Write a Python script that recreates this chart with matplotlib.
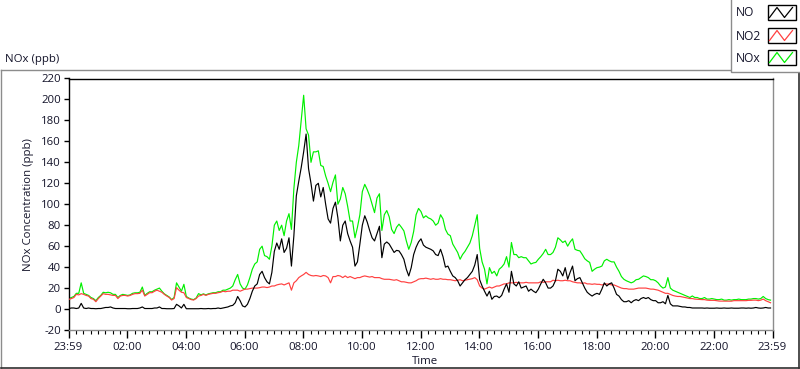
import numpy as np
import matplotlib
matplotlib.use("Agg")
import matplotlib.pyplot as plt
from matplotlib.patches import Rectangle
from matplotlib.lines import Line2D

plt.rcParams['font.family'] = ['Open Sans', 'DejaVu Sans']

# ---- data (5-minute samples, minutes after midnight) ----
minutes = np.arange(0, 1440, 5)

no = [
    # 00h
    0.5, 1, 1, 0.5, 1, 5.4, 1, 0.5, 1, 0.5, 0.5, 0.3,
    # 01h
    0.5, 0.5, 1, 1.5, 1.5, 2, 1, 0.5, 0.5, 0.5, 0.5, 0.5,
    # 02h
    0.3, 0.3, 0.5, 0.5, 0.5, 1, 2, 0.5, 0.5, 0.5, 0.5, 1,
    # 03h
    1, 2, 0.5, 0.5, 0.3, 0.3, 0.3, 0.5, 4.5, 3, 1, 4.5,
    # 04h
    0.3, 0.3, 0.2, 0.3, 0.3, 0.3, 0.5, 0.3, 0.3, 0.5, 0.3, 0.5,
    # 05h
    0.5, 1, 0.5, 1, 1.5, 2, 3, 3.5, 6, 12, 8, 3,
    # 06h
    2, 4.5, 10, 17, 22, 24, 33, 36, 30, 26, 24, 35,
    # 07h
    55, 63, 57, 67, 54, 58, 68, 41, 70, 108, 122, 135,
    # 08h
    150, 167, 134, 120, 103, 118, 120, 107, 116, 100, 86, 82,
    # 09h
    96, 102, 87, 65, 80, 84, 72, 65, 59, 41, 45, 62,
    # 10h
    80, 89, 83, 75, 68, 65, 72, 79, 49, 62, 64, 62,
    # 11h
    58, 54, 56, 55.5, 52, 47.5, 38, 31.6, 39.5, 52, 59, 64,
    # 12h
    67, 61, 59, 58, 57, 55.5, 52, 51, 57, 50, 40, 41,
    # 13h
    36, 31.6, 30, 27, 22, 25, 28, 30, 33, 36, 42, 52,
    # 14h
    28, 22, 17, 12.4, 17, 9.3, 12, 12.4, 10.8, 13, 19, 24,
    # 15h
    16, 36, 24, 22, 26, 20, 21, 22, 17, 19, 17, 15.6,
    # 16h
    19, 24, 28.4, 25, 20, 20, 22, 27, 38, 36, 31.6, 39.5,
    # 17h
    28.4, 35, 41, 27, 29, 30, 25, 20, 16, 14, 12.4, 14,
    # 18h
    15, 14, 19, 25, 22, 24, 25, 20, 14, 12.4, 9, 7,
    # 19h
    7, 8, 6, 8, 9, 8, 10, 11, 10, 11, 9, 8,
    # 20h
    8, 6, 6, 7, 5, 13, 5, 3, 3, 3, 2.5, 2,
    # 21h
    2, 1.5, 1.5, 1, 1, 1, 1, 1, 0.8, 1, 0.8, 0.8,
    # 22h
    0.8, 1, 0.8, 0.8, 1, 0.8, 0.8, 1, 0.8, 0.8, 0.8, 1,
    # 23h
    1, 0.8, 1, 0.8, 1, 1.5, 1, 0.8, 1, 1.5, 1, 1,
]

no2 = [
    9.3, 10, 11, 14, 13.5, 14.7, 14, 13, 12.4, 10, 9.3, 7,
    10, 12.4, 14.7, 14, 14, 13.5, 13, 13, 10, 12.4, 13, 13,
    12.4, 13, 14, 14.7, 14.7, 15, 18, 12.4, 14, 15.6, 15.6, 17,
    18, 17, 16, 14, 12.4, 11, 8.6, 10, 20.4, 18, 16, 15.6,
    11, 10, 9, 8.6, 10, 12.4, 13, 14, 13, 14, 14.5, 15,
    15, 15.6, 16, 17, 16.5, 17, 17, 18, 18, 18, 17, 18,
    19, 19, 19.5, 20, 20, 20, 20.4, 21, 21, 20.5, 21, 22,
    22, 23, 23.6, 24, 23, 24, 25, 18, 25, 27, 30, 31.6,
    33, 35, 33, 32, 31.6, 32, 31.6, 31, 32, 31.6, 30, 25,
    31, 31, 32, 31.5, 30, 31.6, 30, 31, 30, 29, 30, 30,
    31, 31.6, 31, 30.5, 31, 30, 30, 30, 29, 28.4, 28.4, 28.4,
    28, 27.5, 28, 27, 26, 26, 25.5, 25, 25, 26, 27, 28.5,
    29, 29, 29.5, 29, 28.4, 29, 28.4, 28.4, 29, 28.4, 28.4, 28,
    28, 27.5, 27, 27.5, 28, 27, 27.5, 28, 28.4, 29, 30, 28,
    22, 20, 19, 20, 21, 20, 21, 22, 22, 23, 24, 24,
    25, 25, 25, 25.5, 25, 25, 25, 25.5, 25, 25, 25, 25,
    25, 26, 25.5, 26, 26, 26, 27.5, 27, 27.5, 27, 27, 27.5,
    27, 27, 26, 25.5, 25, 25, 24.5, 25, 24, 24, 23.6, 24,
    23.6, 23.6, 23, 23.6, 24, 23.6, 23, 23, 22, 21, 20, 19.5,
    19.5, 19, 19, 19, 19.5, 20, 20, 20, 20, 19.5, 19, 19,
    18.5, 18, 17, 16, 15, 15, 14, 13, 12.4, 12, 12, 11.5,
    11, 10.5, 10, 10, 9.5, 9.3, 9, 9, 9, 8.5, 8.3, 8.3,
    8.3, 8, 7.6, 7.6, 7.6, 7.5, 7.6, 7.5, 8, 8, 8, 8,
    8, 8, 8.3, 8.3, 8.5, 8.5, 8, 8.5, 9.5, 8, 7, 6,
]

nox = [
    10, 11, 12, 15, 15, 25, 15, 14, 13, 11, 10, 8,
    11, 13, 16, 15.5, 16, 15.5, 14, 14, 11, 13, 14, 13.5,
    13, 13.5, 15, 15.5, 15.5, 16, 21, 13, 15, 16.5, 16.5, 18,
    19, 20, 17, 14.5, 13, 11.5, 9, 11, 25, 21, 17, 23.6,
    12, 10.5, 9.5, 9, 10.5, 14.7, 13.5, 14.5, 13.5, 14.5, 15, 15.6,
    15.6, 16.5, 16.5, 18, 18, 19, 20, 22, 28, 33, 24, 20,
    19, 23, 30, 38, 43, 45, 57, 60, 51, 50, 47.5, 60,
    80, 84, 75, 80, 70, 84, 91, 76, 115, 140, 156, 180,
    204, 172, 166, 140, 150, 150, 151, 137, 136, 127, 120, 112,
    121, 128, 100, 105, 116, 110, 98, 84, 84, 68, 78, 90,
    112, 119, 114, 108, 100, 92, 106, 110, 75, 90, 94, 88,
    76, 72, 78, 81, 78, 74.6, 65, 57, 63.5, 74, 90, 96,
    93, 87, 89, 87, 86, 84, 80, 82, 90, 86, 76, 71.5,
    70, 62, 58, 54, 47.5, 52, 55, 59, 63, 70, 80, 90,
    58, 45, 38, 24, 39.5, 34, 36, 31.6, 38, 40, 43, 50,
    40, 63.5, 52, 52, 49, 50, 49, 49, 46, 43, 44, 44.5,
    47.5, 50, 53, 57, 52, 52, 54, 59, 68, 66, 63.5, 65,
    60, 64, 67, 57, 56, 55.5, 52, 48, 46, 44.5, 36, 38,
    39.5, 40, 41, 46, 47.5, 46, 45, 45, 40, 36, 31, 28.4,
    27, 26, 25, 26, 28, 28.4, 30, 31.6, 31, 30, 28, 28,
    27, 25, 22, 20, 21, 30, 20, 18, 17, 16, 15, 14,
    13, 12, 11, 12.5, 11, 11, 10, 10, 11, 9.5, 9.5, 10,
    9.5, 9, 9, 9.5, 8.5, 8.5, 9, 8.5, 9, 9, 9.5, 9,
    9, 9, 9.5, 9.5, 10, 10, 9.5, 10, 12, 10, 9, 8.5,
]

series_names = ["NO", "NO2", "NOx"]
series_colors = ["#000000", "#ff4040", "#00f000"]

major_ticks = list(range(-1, 1440, 120))
major_labels = ["23:59", "02:00", "04:00", "06:00", "08:00", "10:00", "12:00",
                "14:00", "16:00", "18:00", "20:00", "22:00", "23:59"]
y_ticks = list(range(-20, 221, 20))

W, H = 800, 369
fig = plt.figure(figsize=(W / 100, H / 100), dpi=100)
fig.patch.set_facecolor("white")

left_px, right_px, top_px, bot_px = 68.5, 772.5, 78.5, 330.0
ax = fig.add_axes([left_px / W, 1 - bot_px / H,
                   (right_px - left_px) / W, (bot_px - top_px) / H])

ax.plot(minutes, nox, color=series_colors[2], lw=0.85, zorder=2)
ax.plot(minutes, no2, color=series_colors[1], lw=0.85, zorder=3)
ax.plot(minutes, no, color=series_colors[0], lw=0.85, zorder=4)

ax.set_xlim(-1, 1439)
ax.set_ylim(-20, 220)

ax.set_xticks(major_ticks)
ax.set_xticklabels(major_labels)
ax.set_xticks(np.arange(-1, 1440, 15), minor=True)
ax.set_yticks(y_ticks)
ax.set_yticklabels([str(v) for v in y_ticks])

txtc = "#14142a"
ax.tick_params(axis="x", which="major", direction="out", length=5.5, width=1,
               pad=3, labelsize=8.2, colors="black", labelcolor=txtc)
ax.tick_params(axis="x", which="minor", direction="out", length=3, width=0.8,
               colors="black")
ax.tick_params(axis="y", which="major", direction="out", length=3.5, width=1,
               pad=2, labelsize=8.2, colors="black", labelcolor=txtc)

ax.spines["left"].set_color("black")
ax.spines["top"].set_color("black")
ax.spines["right"].set_color("#8c8c8c")
ax.spines["bottom"].set_color("#8c8c8c")
for s in ax.spines.values():
    s.set_linewidth(1)

# texts
fig.text(5 / W, 1 - 59.5 / H, "NOx (ppb)", ha="left", va="center",
         fontsize=8.2, color=txtc)
fig.text(28 / W, 1 - 205 / H, "NOx Concentration (ppb)", ha="center",
         va="center", rotation=90, fontsize=8.2, color=txtc)
fig.text(425 / W, 1 - 361 / H, "Time", ha="center", va="center",
         fontsize=8.2, color=txtc)

# overlay for frame and legend (pixel coordinates)
ov = fig.add_axes([0, 0, 1, 1], facecolor="none")
ov.set_xlim(0, W)
ov.set_ylim(H, 0)
ov.axis("off")

ov.add_line(Line2D([0.5, 0.5], [69.5, 367.5], color="#8c8c8c", lw=1))
ov.add_line(Line2D([0.5, 798.5], [69.5, 69.5], color="#8c8c8c", lw=1))
ov.add_line(Line2D([0.5, 798.5], [367.5, 367.5], color="#303030", lw=1.2))
ov.add_line(Line2D([798.5, 798.5], [69.5, 367.5], color="#303030", lw=1.2))

# legend box
ov.add_patch(Rectangle((730.5, -2), 75, 73.5, facecolor="white",
                       edgecolor="#8c8c8c", lw=1, zorder=5))
row_y = [13, 36, 58]
for name, col, yc in zip(series_names, series_colors, row_y):
    ov.text(736, yc, name, ha="left", va="center", fontsize=8.7,
            color=txtc, zorder=6)
    bx0, bx1 = 767.5, 795.5
    by0, by1 = yc - 8, yc + 7
    ov.add_patch(Rectangle((bx0, by0), bx1 - bx0, by1 - by0,
                           facecolor="white", edgecolor="black", lw=1,
                           zorder=6))
    zx = [bx0 + 2, bx0 + 9.5, bx0 + 17, bx0 + 25]
    zy = [by1 - 2.5, by0 + 2.5, by1 - 2.5, by0 + 2.5]
    ov.add_line(Line2D(zx, zy, color=col, lw=0.9, zorder=7))

fig.savefig("out.png", dpi=100)
